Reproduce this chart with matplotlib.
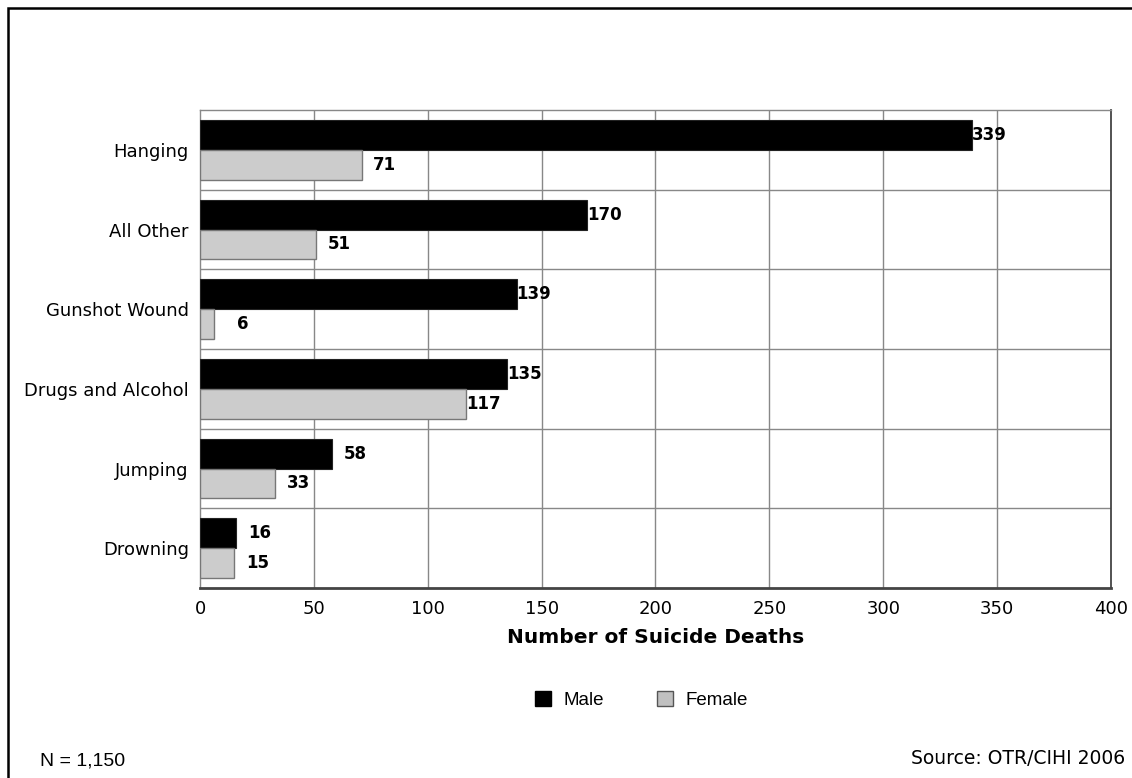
import matplotlib.pyplot as plt
import numpy as np
from matplotlib.patches import Patch, Rectangle

# Suicide deaths by method and sex
methods = ['Hanging', 'All Other', 'Gunshot Wound', 'Drugs and Alcohol', 'Jumping', 'Drowning']
male = [339, 170, 139, 135, 58, 16]
female = [71, 51, 6, 117, 33, 15]
x_ticks = [0, 50, 100, 150, 200, 250, 300, 350, 400]

male_color = '#000000'
female_color = '#cccccc'

fig = plt.figure(figsize=(11.32, 7.78), dpi=100)
ax = fig.add_axes([0.1767, 0.2442, 0.8047, 0.6144])

pos = np.arange(len(methods))
bar_h = 0.375
ax.barh(pos - bar_h / 2, male, height=bar_h, color=male_color, edgecolor='#222222', linewidth=0.8, zorder=3)
ax.barh(pos + bar_h / 2, female, height=bar_h, color=female_color, edgecolor='#777777', linewidth=1.0, zorder=3)

# value labels sit just past the end of each bar, right aligned
for i in range(len(methods)):
    ax.annotate(str(male[i]), (male[i], pos[i] - bar_h / 2), xytext=(25, 0),
                textcoords='offset points', ha='right', va='center',
                fontsize=12, fontweight='bold', zorder=4)
    ax.annotate(str(female[i]), (female[i], pos[i] + bar_h / 2), xytext=(25, 0),
                textcoords='offset points', ha='right', va='center',
                fontsize=12, fontweight='bold', zorder=4)

ax.set_xlim(0, 400)
ax.set_ylim(len(methods) - 0.5, -0.5)
ax.set_xticks(x_ticks)
ax.set_xticklabels([str(t) for t in x_ticks])
ax.set_yticks(pos)
ax.set_yticklabels(methods)
ax.tick_params(axis='both', length=0, labelsize=13)
ax.tick_params(axis='y', pad=8)
ax.tick_params(axis='x', pad=8.5)

# grid: vertical lines at ticks, horizontal lines between categories
for t in x_ticks[1:-1]:
    ax.axvline(t, color='#888888', linewidth=1.0, zorder=1)
for b in np.arange(0.5, len(methods) - 0.5, 1.0):
    ax.axhline(b, color='#888888', linewidth=1.0, zorder=1)

for side in ['top', 'left']:
    ax.spines[side].set_color('#888888')
    ax.spines[side].set_linewidth(1.0)
ax.spines['right'].set_color('#444444')
ax.spines['right'].set_linewidth(1.3)
ax.spines['bottom'].set_color('#444444')
ax.spines['bottom'].set_linewidth(2.0)

ax.set_xlabel('Number of Suicide Deaths', fontsize=14.5, fontweight='bold', labelpad=7)

handles = [Patch(facecolor='#000000', edgecolor='#000000', label='Male'),
           Patch(facecolor='#c0c0c0', edgecolor='#555555', label='Female')]
fig.legend(handles=handles, loc='center', bbox_to_anchor=(0.5665, 0.1), ncol=2,
           frameon=False, handlelength=0.85, handleheight=0.85, handletextpad=0.65,
           columnspacing=2.85, prop={'family': 'Liberation Sans', 'size': 13.5})

fig.text(40 / 1132, 1 - 766 / 778, 'N = 1,150', family='Liberation Sans', fontsize=14,
         ha='left', va='baseline')
fig.text(1125 / 1132, 1 - 764 / 778, 'Source: OTR/CIHI 2006', fontsize=13.5,
         ha='right', va='baseline')

# outer frame, running off the right and bottom edges
fig.patches.append(Rectangle((8 / 1132, -0.02), 1.05, 1 - 8 / 778 + 0.02,
                             transform=fig.transFigure, fill=False,
                             edgecolor='#000000', linewidth=1.8))

fig.savefig('out.png', dpi=100, facecolor='white')
